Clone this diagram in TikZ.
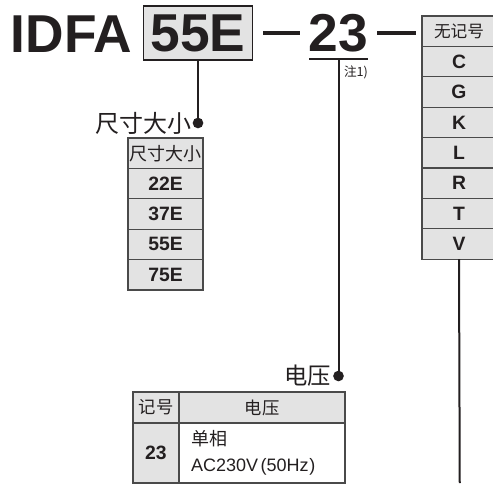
\documentclass[tikz,border=0pt]{standalone}
\usepackage{fontspec}
\setmainfont{Liberation Sans}
\newfontfamily\cj{Noto Sans CJK SC}
\definecolor{ink}{HTML}{231F20}
\definecolor{cellgray}{HTML}{E3E3E3}
\definecolor{rulec}{HTML}{4A4A4A}
\begin{document}
\begin{tikzpicture}[x=0.75pt,y=-0.75pt,
  every node/.style={text=ink, inner sep=0pt, outer sep=0pt},
  big/.style={font=\fontsize{40}{40}\selectfont\bfseries},
  cell/.style={draw=rulec, line width=0.9pt, fill=cellgray, anchor=north west,
    minimum width=#1, minimum height=22.8pt},
  celltxt/.style={font=\fontsize{14.5}{14.5}\selectfont\bfseries},
  conn/.style={draw=ink, line width=1.5pt},
  dot/.style={fill=ink}]
\useasboundingbox (0,0) rectangle (493,485);
\begin{scope}
\clip (0,0) rectangle (493,485);
% main code line
\node[big, anchor=base west] (idfa) at (11,53) {IDFA};
\node[big, draw=ink, line width=1.1pt, fill=cellgray, minimum width=81.75pt,
  minimum height=40.5pt] (box55) at (198,33) {55E};
\node (dash1) at (281.5,33) {\color{ink}\rule{27.75pt}{2.3pt}};
\node[big, anchor=base] (n23) at (338.5,52) {23};
\node (dash2) at (396.5,33) {\color{ink}\rule{29pt}{2.3pt}};
\coordinate (ulA) at (309,59);
\coordinate (ulB) at (368,59);
\draw[draw=ink, line width=1.1pt] (ulA) -- (ulB);
\node[anchor=west, font=\cj\fontsize{9.5}{9.5}\selectfont] (note) at (344,72) {注1)};
% right option table
\node[cell=55.5pt, font=\cj\fontsize{12.5}{12.5}\selectfont] (r0) at (422,16) {无记号};
\foreach \t [count=\i] in {C,G,K,L,R,T,V}{
  \node[cell=55.5pt, celltxt] (r\i) at (422,{16+30.4*\i}) {\t};
}
\coordinate (endV) at (459.75,483);
\draw[conn] (r7.south) -- (endV);
% size branch
\coordinate (d1) at (198,123);
\draw[conn] (box55.south) -- (d1);
\fill[dot] (d1) circle[radius=4pt];
\node[anchor=east, font=\cj\fontsize{18}{18}\selectfont] (lab1) at (191,123) {尺寸大小};
\node[cell=56.25pt, font=\cj\fontsize{13.5}{13.5}\selectfont] (s0) at (128,138) {尺寸大小};
\foreach \t [count=\i] in {22E,37E,55E,75E}{
  \node[cell=56.25pt, celltxt] (s\i) at (128,{138+30.4*\i}) {\t};
}
% voltage branch
\coordinate (ulM) at (338.5,59);
\coordinate (d2) at (338.5,376);
\draw[conn] (ulM) -- (d2);
\fill[dot] (d2) circle[radius=4pt];
\node[anchor=east, font=\cj\fontsize{17.5}{17.5}\selectfont] (lab2) at (331,376) {电压};
\node[cell=34.5pt, minimum height=23.25pt, font=\cj\fontsize{13}{13}\selectfont] (h1) at (133,392) {记号};
\node[cell=124.5pt, minimum height=23.25pt, font=\cj\fontsize{13}{13}\selectfont] (h2) at (179,392) {电压};
\node[cell=34.5pt, minimum height=45pt, font=\fontsize{14.5}{14.5}\selectfont\bfseries] (b1) at (133,423) {23};
\node[cell=124.5pt, minimum height=45pt, fill=white, align=left, text width=106.5pt,
  inner xsep=9pt, font=\fontsize{13.5}{19.5}\selectfont] (b2) at (179,423)
  {{\cj 单相}\\AC230V\kern2pt(50Hz\kern0.5pt)};
\end{scope}
\end{tikzpicture}
\end{document}
